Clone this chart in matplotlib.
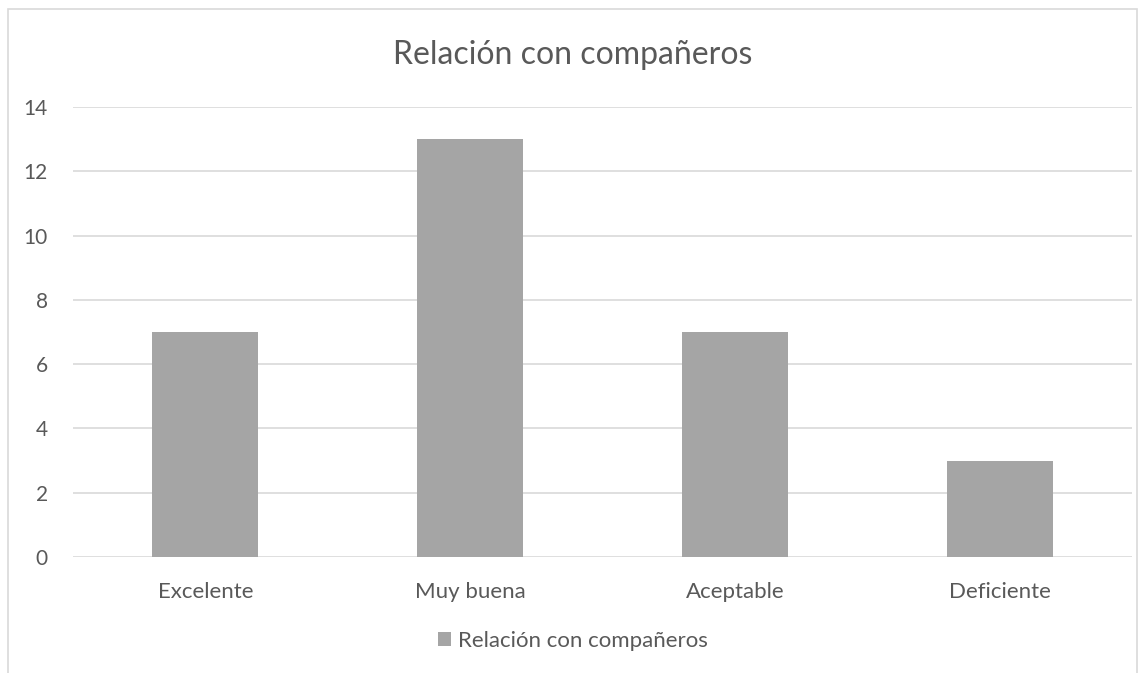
import matplotlib
matplotlib.use("Agg")
import matplotlib.pyplot as plt
from matplotlib.patches import Rectangle

categories = ["Excelente", "Muy buena", "Aceptable", "Deficiente"]
values = [7, 13, 7, 3]
series_name = "Relación con compañeros"
yticks = [0, 2, 4, 6, 8, 10, 12, 14]

W, H = 1146, 673
plt.rcParams['font.family'] = ['Lato', 'DejaVu Sans']
fig = plt.figure(figsize=(W / 100, H / 100), dpi=100)

# chart border (bottom is cut off in the reference)
fig.patches.append(Rectangle((8 / W, -0.05), (1137 - 8) / W, 1.05 - 9 / H,
                             transform=fig.transFigure, fill=False,
                             edgecolor="#d9d9d9", linewidth=1.2))

ax = fig.add_axes([73 / W, (H - 557) / H, (1132 - 73) / W, (557 - 107) / H])
x = range(len(categories))
ax.bar(x, values, width=0.4, color="#a5a5a5", label=series_name, zorder=3)
ax.set_xlim(-0.5, len(categories) - 0.5)
ax.set_ylim(0, 14)
ax.set_yticks(yticks)
ax.set_xticks(list(x))
ax.set_xticklabels(categories)
ax.grid(axis="y", color="#d9d9d9", linewidth=1.2, zorder=0)
for s in ax.spines.values():
    s.set_visible(False)
ax.tick_params(length=0, colors="#595959", labelsize=16)
ax.tick_params(axis="y", pad=18, labelsize=15)
ax.tick_params(axis="x", pad=18)
for lab in ax.get_yticklabels():
    lab.set_horizontalalignment("right")

fig.text(0.5, (H - 55) / H, series_name, ha="center", va="center",
         fontsize=23, color="#595959")

fig.legend(loc="center", bbox_to_anchor=(0.5, (H - 641) / H), frameon=False,
           fontsize=16, labelcolor="#595959", handlelength=0.6, handleheight=0.6,
           handletextpad=0.3)

fig.savefig("out.png", dpi=100)
